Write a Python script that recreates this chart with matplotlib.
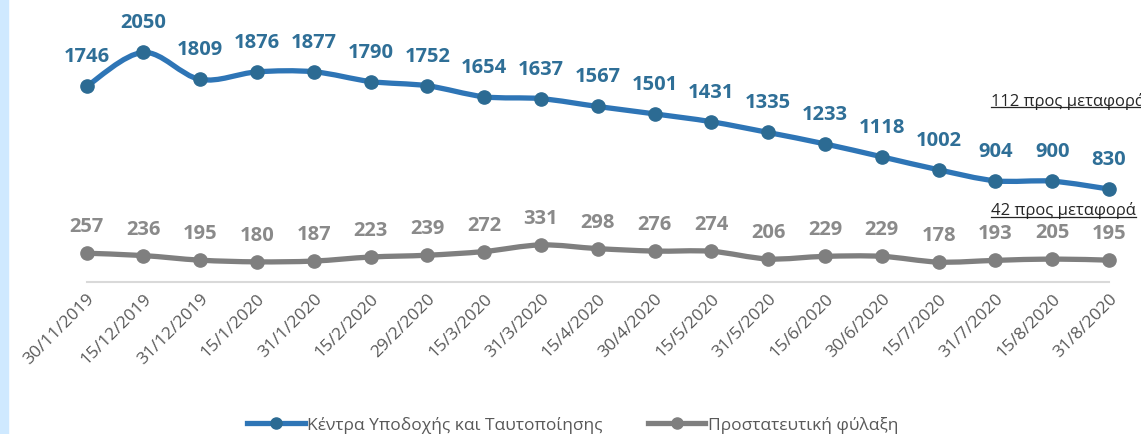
import matplotlib
matplotlib.use('Agg')
import matplotlib.pyplot as plt
from matplotlib.path import Path
from matplotlib.patches import PathPatch, Rectangle
from matplotlib.lines import Line2D

plt.rcParams['font.family'] = ['Open Sans', 'DejaVu Sans']

dates = ['30/11/2019', '15/12/2019', '31/12/2019', '15/1/2020', '31/1/2020',
         '15/2/2020', '29/2/2020', '15/3/2020', '31/3/2020', '15/4/2020',
         '30/4/2020', '15/5/2020', '31/5/2020', '15/6/2020', '30/6/2020',
         '15/7/2020', '31/7/2020', '15/8/2020', '31/8/2020']
reception = [1746, 2050, 1809, 1876, 1877, 1790, 1752, 1654, 1637, 1567,
             1501, 1431, 1335, 1233, 1118, 1002, 904, 900, 830]
custody = [257, 236, 195, 180, 187, 223, 239, 272, 331, 298,
           276, 274, 206, 229, 229, 178, 193, 205, 195]
series_names = ['Κέντρα Υποδοχής και Ταυτοποίησης', 'Προστατευτική φύλαξη']
notes = ['112 προς μεταφορά', '42 προς μεταφορά']

blue, blue_dark, blue_lbl = '#2E75B6', '#2C6B93', '#2F6F97'
gray, gray_lbl = '#7F7F7F', '#8A8A8A'


def smooth_path(xs, ys):
    # catmull-rom style bezier through the points (like Excel smoothed lines)
    pts = list(zip(xs, ys))
    verts = [pts[0]]
    codes = [Path.MOVETO]
    n = len(pts)
    for i in range(n - 1):
        p0 = pts[i - 1] if i > 0 else pts[i]
        p1 = pts[i]
        p2 = pts[i + 1]
        p3 = pts[i + 2] if i + 2 < n else pts[i + 1]
        c1 = (p1[0] + (p2[0] - p0[0]) / 6, p1[1] + (p2[1] - p0[1]) / 6)
        c2 = (p2[0] - (p3[0] - p1[0]) / 6, p2[1] - (p3[1] - p1[1]) / 6)
        verts += [c1, c2, p2]
        codes += [Path.CURVE4] * 3
    return Path(verts, codes)


fig = plt.figure(figsize=(11.41, 4.35), dpi=100)
fig.patches.append(Rectangle((0, 0), 8 / 1141, 1, transform=fig.transFigure,
                             color='#CFE9FF', zorder=0))
ax = fig.add_axes([86.5 / 1141, 1 - 283 / 435, (1109 - 86.5) / 1141, 280 / 435])

x = list(range(len(dates)))
for vals, lc, mc, tc, off in [(reception, blue, blue_dark, blue_lbl, 30),
                              (custody, gray, gray, gray_lbl, 27)]:
    ax.add_patch(PathPatch(smooth_path(x, vals), facecolor='none', edgecolor=lc,
                           lw=3.8, capstyle='round', joinstyle='round', clip_on=False))
    ax.plot(x, vals, linestyle='none', marker='o', ms=9.5, color=mc, clip_on=False, zorder=3)
    for xi, v in zip(x, vals):
        ax.annotate(str(v), (xi, v), xytext=(0, off), textcoords='offset pixels',
                    ha='center', va='center', fontsize=14.5, fontweight='bold', color=tc)

ax.set_xlim(0, len(dates) - 1)
ax.set_ylim(0, 2500)
ax.set_xticks(x)
ax.set_xticklabels(dates, rotation=45, ha='right', rotation_mode='anchor',
                   fontsize=12.5, color='#595959')
ax.tick_params(axis='x', length=0, pad=6)
ax.set_yticks([])
for s in ['left', 'right', 'top']:
    ax.spines[s].set_visible(False)
ax.spines['bottom'].set_color('#D9D9D9')
ax.spines['bottom'].set_linewidth(1.5)

handles = [Line2D([], [], color=blue, lw=3.8, marker='o', ms=8, markerfacecolor=blue_dark,
                  markeredgecolor=blue_dark),
           Line2D([], [], color=gray, lw=3.8, marker='o', ms=8)]
fig.legend(handles, series_names, loc='center', bbox_to_anchor=(0.502, 1 - 426 / 435),
           ncol=2, frameon=False, fontsize=12.5, labelcolor='#595959',
           handlelength=3.3, handletextpad=0.15, columnspacing=2.6)

note_texts = []
for txt, ypx in zip(notes, [101, 211]):
    note_texts.append(fig.text(991 / 1141, 1 - ypx / 435, txt, ha='left', va='center',
                               fontsize=12, color='#262626'))

fig.canvas.draw()
r = fig.canvas.get_renderer()
for t in note_texts:
    bb = t.get_window_extent(r)
    yline = bb.y0 + 2
    fig.lines.append(Line2D([bb.x0 / 1141, bb.x1 / 1141], [yline / 435, yline / 435],
                            transform=fig.transFigure, color='#262626', lw=0.9))

fig.savefig('out.png', dpi=100)
